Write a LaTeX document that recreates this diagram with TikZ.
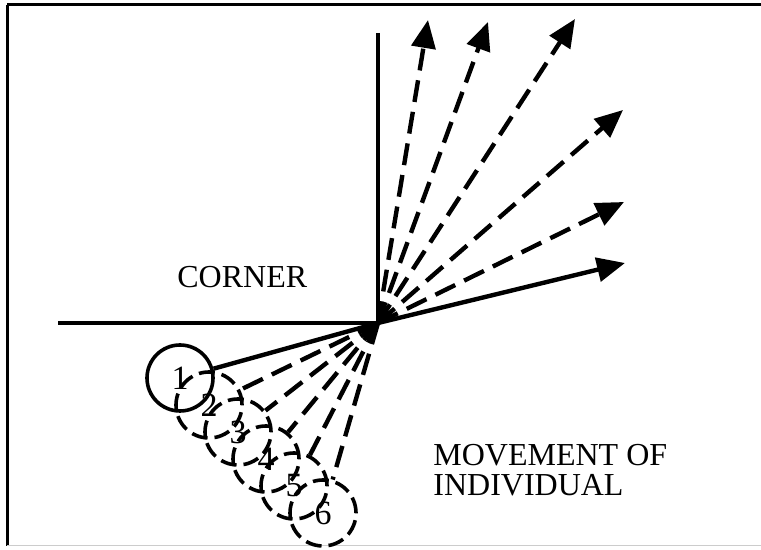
\documentclass[tikz,border=0pt]{standalone}
\usepackage{fontspec}
\setmainfont{Liberation Serif}
\usepackage{tikz}
\usetikzlibrary{arrows.meta}
\tikzstyle{wall} = [
    line width=2.4pt
]
\tikzstyle{frame} = [
    line width=1.5pt
]
\tikzstyle{person} = [
    circle,
    minimum size=33pt,
    inner sep=0pt,
    line width=1.8pt,
    draw=black,
    font=\fontsize{17}{17}\selectfont
]
\tikzstyle{dashedperson} = [
    person,
    dash pattern=on 8pt off 3.5pt
]
\tikzstyle{ray} = [
    line width=2.2pt
]
\tikzstyle{dashedray} = [
    ray,
    dash pattern=on 11pt off 5pt
]
\tikzstyle{arrow} = [-{Triangle[length=14pt,width=12pt]}]
\tikzstyle{labeltext} = [
    inner sep=0pt,
    align=left,
    font=\fontsize{16}{15}\selectfont
]

\begin{document}
\begin{tikzpicture}[x=0.5pt, y=-0.5pt]

\useasboundingbox (0,0) rectangle (761,550);

% frame
\draw [frame] (7,5) -- (761,5);
\draw [frame] (7,5) -- (7,546);
\draw [gray!40, line width=0.5pt] (7,546) -- (761,546);

% walls
\coordinate (corner) at (378,323);
\coordinate (wallW) at (58,323);
\coordinate (wallN) at (378,33);

\draw [wall] (wallW) -- (corner);
\draw [wall] (wallN) -- (corner);

\node (cornerlabel) [labeltext, anchor=base west] at (177,288) {CORNER};

\node (movelabel) [labeltext, anchor=base west] at (433,496)
{MOVEMENT OF\\INDIVIDUAL};

% individuals
\node (p1) [person] at (180,378) {1};
\node (p2) [dashedperson] at (209,405) {2};
\node (p3) [dashedperson] at (238,432) {3};
\node (p4) [dashedperson] at (266,459) {4};
\node (p5) [dashedperson] at (294,486) {5};
\node (p6) [dashedperson] at (323,513) {6};

% lines of movement
\coordinate (u1) at (428,20);
\coordinate (u2) at (488,22);
\coordinate (u3) at (575,19);
\coordinate (u4) at (623,110);
\coordinate (u5) at (624,202);
\coordinate (u6) at (625,263);

\draw [ray] (corner) -- (p1);
\draw [dashedray] (corner) -- (p2);
\draw [dashedray] (corner) -- (p3);
\draw [dashedray] (corner) -- (p4);
\draw [dashedray] (corner) -- (p5);
\draw [dashedray] (corner) -- (p6);

\draw [dashedray, arrow] (corner) -- (u1);
\draw [dashedray, arrow] (corner) -- (u2);
\draw [dashedray, arrow] (corner) -- (u3);
\draw [dashedray, arrow] (corner) -- (u4);
\draw [dashedray, arrow] (corner) -- (u5);
\draw [ray, arrow] (corner) -- (u6);

\end{tikzpicture}
\end{document}
